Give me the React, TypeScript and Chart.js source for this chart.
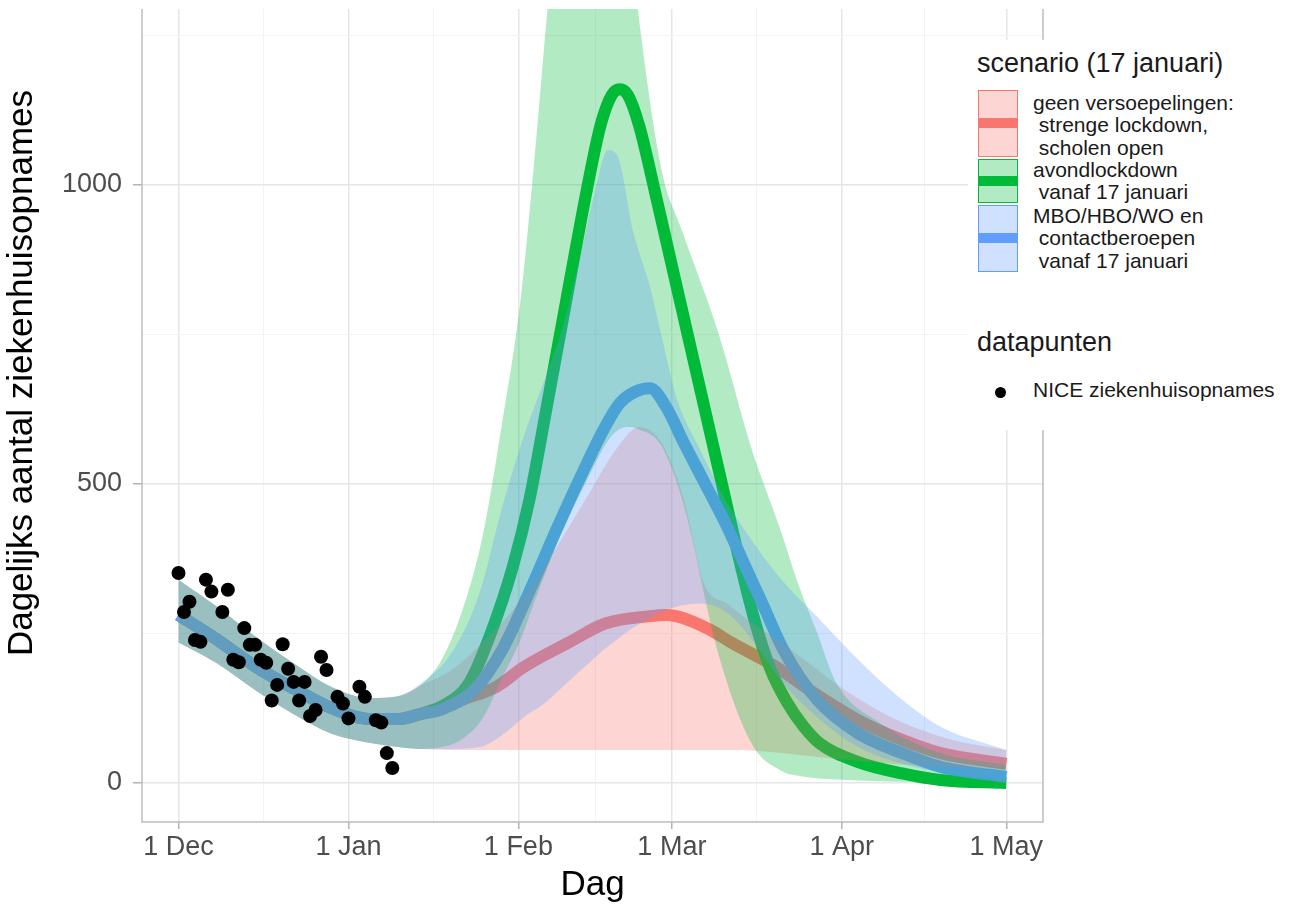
import React, { useEffect, useRef } from 'react';
import { Chart, registerables } from 'chart.js';

Chart.register(...registerables);

// ---------- axis ticks ----------
const xTickDays = [0, 31, 62, 90, 121, 151];
const xTickLabels = ['1 Dec', '1 Jan', '1 Feb', '1 Mar', '1 Apr', '1 May'];
const xMinorDays = [15.5, 46.5, 76, 105.5, 136];
const yTickValues = [0, 500, 1000];
const yMinorValues = [250, 750, 1250];

// ---------- NICE data points (day since 1 Dec, admissions) ----------
const niceDays = [0, 1, 2, 3, 4, 5, 6, 8, 9, 10, 11, 12, 13, 14, 15, 16, 17, 18, 19, 20, 21, 22, 23, 24, 25, 26, 27, 29, 30, 31, 33, 34, 36, 37, 38, 39];
const niceValues = [351, 286, 303, 239, 236, 340, 320, 286, 323, 206, 202, 259, 231, 231, 206, 201, 138, 164, 232, 191, 169, 138, 169, 112, 122, 211, 189, 144, 133, 108, 161, 144, 105, 101, 50, 25];

// ---------- scenario: geen versoepelingen (red) ----------
const redLineDays = [0, 7, 14, 21, 28, 35, 40, 44, 48, 52, 58, 63, 71, 78, 86, 89, 92, 97, 101, 109, 116, 124, 132, 139, 151];
const redLine = [281, 240, 195, 158, 125, 107, 107, 115, 127, 140, 161, 194, 234, 267, 279, 281, 276, 256, 234, 194, 150, 105, 72, 50, 32];
const redBandDays = [0, 7, 14, 21, 28, 35, 40, 44, 50, 56, 62, 68, 74, 80, 84, 88, 92, 96, 100, 105, 110, 115, 120, 130, 140, 151];
const redLow = [235, 200, 155, 115, 82, 67, 60, 57, 55, 55, 55, 55, 55, 55, 55, 55, 55, 55, 55, 54, 50, 45, 40, 32, 26, 22];
const redHigh = [340, 295, 245, 200, 160, 142, 145, 162, 190, 240, 300, 380, 470, 560, 595, 570, 480, 330, 300, 265, 235, 200, 165, 110, 75, 55];

// ---------- scenario: avondlockdown (green) ----------
const greenLineDays = [0, 7, 14, 21, 28, 35, 40, 44, 48, 53, 57, 61, 64, 67, 70, 74.6, 77, 79, 80.5, 82, 84, 87, 90, 93, 96, 99, 102, 105, 108, 111, 114, 117, 124, 132, 139, 151];
const greenLine = [281, 240, 195, 158, 125, 107, 107, 115, 128, 167, 251, 362, 473, 620, 770, 997, 1100, 1150, 1160, 1150, 1100, 985, 865, 745, 625, 505, 385, 275, 190, 135, 95, 66, 35, 16, 5, 0];
const greenBandDays = [0, 7, 14, 21, 28, 35, 40, 44, 48, 52, 55.6, 59, 62.4, 64.8, 67.3, 70, 75, 79, 82, 83.8, 88, 92, 98.5, 104.6, 110, 113, 116.5, 120, 128, 139, 151];
const greenLow = [235, 200, 155, 115, 82, 67, 60, 57, 60, 75, 110, 175, 240, 300, 360, 420, 515, 580, 595, 592, 565, 470, 215, 65, 20, 12, 8, 6, 3, 1, 0];
const greenHigh = [340, 295, 245, 200, 160, 142, 145, 162, 206, 295, 418, 600, 808, 1030, 1293, 1550, 1750, 1650, 1450, 1293, 1030, 920, 752, 557, 418, 334, 251, 167, 100, 50, 30];

// ---------- scenario: MBO/HBO/WO en contactberoepen (blue) ----------
const blueLineDays = [0, 7, 14, 21, 28, 35, 40, 44, 48, 54, 59, 64.5, 69, 73.5, 77.5, 80.5, 83.5, 86, 89, 92, 95.5, 100, 103, 106.5, 110.5, 116.5, 124, 132, 139, 151];
const blueLine = [281, 240, 195, 158, 125, 107, 107, 115, 123, 156, 222, 330, 425, 515, 590, 635, 655, 660, 628, 572, 510, 430, 370, 300, 220, 139, 83, 50, 27, 10];
const blueBandDays = [0, 7, 14, 21, 28, 35, 40, 44, 50, 55, 59, 63, 67, 70, 73, 76, 78.3, 80, 83, 86, 88, 91, 95, 100, 105, 110, 116.5, 124, 132, 139, 151];
const blueLow = [235, 200, 155, 115, 82, 67, 60, 57, 57, 60, 80, 110, 135, 160, 185, 210, 228, 240, 260, 275, 285, 295, 300, 285, 235, 170, 110, 60, 32, 18, 5];
const blueHigh = [340, 295, 245, 200, 160, 142, 145, 165, 220, 320, 460, 580, 680, 760, 870, 990, 1058, 1050, 920, 830, 752, 640, 560, 470, 400, 340, 278, 206, 139, 94, 55];

// ---------- styling ----------
const W = 1294;
const H = 906;
const FONT = "'Liberation Sans', Arial, Helvetica, sans-serif";
const RED = '#F8766D';
const GREEN = '#00BA38';
const BLUE = '#619CFF';
const RED_F = 'rgba(248,118,109,0.3)';
const GREEN_F = 'rgba(0,186,56,0.3)';
const BLUE_F = 'rgba(97,156,255,0.3)';

const pts = (xs: number[], ys: number[]) => xs.map((x, i) => ({ x, y: ys[i] }));

const lineDs = (data: { x: number; y: number }[], color: string, order: number) => ({
  data,
  borderColor: color,
  backgroundColor: color,
  borderWidth: 12,
  pointRadius: 0,
  borderCapStyle: 'butt' as const,
  borderJoinStyle: 'round' as const,
  cubicInterpolationMode: 'monotone' as const,
  fill: false,
  order,
});

const bandEdge = (data: { x: number; y: number }[], order: number, fill: any, bg: string) => ({
  data,
  borderColor: 'rgba(0,0,0,0)',
  backgroundColor: bg,
  borderWidth: 0,
  pointRadius: 0,
  cubicInterpolationMode: 'monotone' as const,
  fill,
  order,
});

const panelBorder = {
  id: 'panelBorder',
  afterDraw(chart: any) {
    const { ctx, chartArea: a } = chart;
    ctx.save();
    ctx.strokeStyle = '#bdbdbd';
    ctx.lineWidth = 1.5;
    ctx.beginPath();
    ctx.moveTo(a.left, a.top);
    ctx.lineTo(a.left, a.bottom);
    ctx.lineTo(a.right, a.bottom);
    ctx.lineTo(a.right, a.top);
    ctx.stroke();
    ctx.restore();
  },
};

const yTitle = {
  id: 'yTitle',
  afterDraw(chart: any) {
    const { ctx } = chart;
    ctx.save();
    ctx.translate(22, 373);
    ctx.rotate(-Math.PI / 2);
    ctx.font = `35px ${FONT}`;
    ctx.fillStyle = '#000';
    ctx.textAlign = 'center';
    ctx.textBaseline = 'middle';
    ctx.fillText('Dagelijks aantal ziekenhuisopnames', 0, 0);
    ctx.restore();
  },
};

const isIn = (arr: number[], v: number) => arr.some((a) => Math.abs(a - v) < 1e-6);

export default function App() {
  const ref = useRef<HTMLCanvasElement>(null);

  useEffect(() => {
    const canvas = ref.current;
    if (!canvas) return;
    const datasets: any[] = [
      // 0 points
      {
        data: pts(niceDays, niceValues),
        showLine: false,
        pointRadius: 7,
        pointBackgroundColor: '#000',
        pointBorderWidth: 0,
        borderColor: '#000',
        order: 0,
      },
      // 1-3 lines (drawn under the ribbons)
      lineDs(pts(redLineDays, redLine), RED, 6),
      lineDs(pts(greenLineDays, greenLine), GREEN, 5),
      lineDs(pts(blueLineDays, blueLine), BLUE, 4),
      // 4-5 red ribbon
      bandEdge(pts(redBandDays, redLow), 3, false, RED_F),
      bandEdge(pts(redBandDays, redHigh), 3, { target: 4, above: RED_F, below: RED_F }, RED_F),
      // 6-7 green ribbon
      bandEdge(pts(greenBandDays, greenLow), 2, false, GREEN_F),
      bandEdge(pts(greenBandDays, greenHigh), 2, { target: 6, above: GREEN_F, below: GREEN_F }, GREEN_F),
      // 8-9 blue ribbon
      bandEdge(pts(blueBandDays, blueLow), 1, false, BLUE_F),
      bandEdge(pts(blueBandDays, blueHigh), 1, { target: 8, above: BLUE_F, below: BLUE_F }, BLUE_F),
    ];

    const xAll = [...xTickDays, ...xMinorDays].sort((a, b) => a - b);
    const yAll = [...yTickValues, ...yMinorValues].sort((a, b) => a - b);

    const chart = new Chart(canvas, {
      type: 'line',
      data: { datasets },
      options: {
        responsive: false,
        maintainAspectRatio: false,
        animation: false,
        events: [],
        layout: { padding: { left: 0, top: 9, right: W - 1043, bottom: 0 } },
        plugins: {
          legend: { display: false },
          tooltip: { enabled: false },
          filler: { propagate: false },
        },
        scales: {
          x: {
            type: 'linear',
            min: -6.66,
            max: 157.7,
            afterBuildTicks: (s: any) => {
              s.ticks = xAll.map((v) => ({ value: v }));
            },
            afterFit: (s: any) => {
              s.height = H - 822;
              s.paddingLeft = 0;
              s.paddingRight = 0;
              s.paddingTop = 0;
              s.paddingBottom = 0;
            },
            ticks: {
              autoSkip: false,
              maxRotation: 0,
              minRotation: 0,
              padding: 2,
              color: '#4d4d4d',
              font: { family: FONT, size: 27 },
              callback: (v: any) => {
                const i = xTickDays.findIndex((d) => Math.abs(d - Number(v)) < 1e-6);
                return i >= 0 ? xTickLabels[i] : '';
              },
            },
            grid: {
              color: (c: any) => (isIn(xTickDays, c.tick?.value) ? '#e6e6e6' : '#f3f3f3'),
              lineWidth: (c: any) => (isIn(xTickDays, c.tick?.value) ? 1.5 : 1),
              tickColor: (c: any) => (isIn(xTickDays, c.tick?.value) ? '#b3b3b3' : 'rgba(0,0,0,0)'),
              tickLength: 7,
              tickWidth: 1.5,
              drawTicks: true,
            },
            border: { display: false },
            title: {
              display: true,
              text: 'Dag',
              color: '#000',
              font: { family: FONT, size: 35, lineHeight: 1.2 },
              padding: { top: 0, bottom: 0 },
            },
          },
          y: {
            type: 'linear',
            min: -65.2,
            max: 1294,
            afterBuildTicks: (s: any) => {
              s.ticks = yAll.map((v) => ({ value: v }));
            },
            afterFit: (s: any) => {
              s.width = 142;
              s.paddingLeft = 0;
              s.paddingRight = 0;
              s.paddingTop = 0;
              s.paddingBottom = 0;
            },
            ticks: {
              padding: 11,
              color: '#4d4d4d',
              font: { family: FONT, size: 27 },
              callback: (v: any) => (isIn(yTickValues, Number(v)) ? String(v) : ''),
            },
            grid: {
              color: (c: any) => (isIn(yTickValues, c.tick?.value) ? '#e6e6e6' : '#f3f3f3'),
              lineWidth: (c: any) => (isIn(yTickValues, c.tick?.value) ? 1.5 : 1),
              tickColor: (c: any) => (isIn(yTickValues, c.tick?.value) ? '#b3b3b3' : 'rgba(0,0,0,0)'),
              tickLength: 9,
              tickWidth: 1.5,
              drawTicks: true,
            },
            border: { display: false },
            title: { display: false },
          },
        },
      } as any,
      plugins: [panelBorder, yTitle],
    });
    return () => chart.destroy();
  }, []);

  const keyBox = (top: number, height: number, fill: string, color: string) => (
    <div
      style={{
        position: 'absolute',
        left: 978,
        top,
        width: 40,
        height,
        boxSizing: 'border-box',
        background: fill,
        border: `1.5px solid ${color}`,
      }}
    >
      <div
        style={{
          position: 'absolute',
          left: 0,
          right: 0,
          top: height / 2 - 1.5 - 5,
          height: 10,
          background: color,
        }}
      />
    </div>
  );

  const label = (top: number, lines: string[]) => (
    <div
      style={{
        position: 'absolute',
        left: 1033,
        top,
        fontSize: 21,
        lineHeight: '22.5px',
        color: '#1a1a1a',
        whiteSpace: 'pre',
      }}
    >
      {lines.map((l, i) => (
        <div key={i}>{l}</div>
      ))}
    </div>
  );

  return (
    <div
      style={{
        position: 'absolute',
        left: 0,
        top: 0,
        width: W,
        height: H,
        background: '#fff',
        fontFamily: FONT,
        overflow: 'hidden',
      }}
    >
      <canvas
        ref={ref}
        width={W}
        height={H}
        style={{ position: 'absolute', left: 0, top: 0, width: W, height: H }}
      />
      {/* legend panel */}
      <div style={{ position: 'absolute', left: 968, top: 40, width: W - 968, height: 390, background: '#fff' }} />
      <div
        style={{
          position: 'absolute',
          left: 977,
          top: 50,
          fontSize: 27,
          lineHeight: '27px',
          color: '#1a1a1a',
          whiteSpace: 'pre',
        }}
      >
        scenario (17 januari)
      </div>
      {keyBox(90, 67, RED_F, RED)}
      {keyBox(159, 44, GREEN_F, GREEN)}
      {keyBox(205, 67, BLUE_F, BLUE)}
      {label(91.5, ['geen versoepelingen:', ' strenge lockdown,', ' scholen open'])}
      {label(158.5, ['avondlockdown', ' vanaf 17 januari'])}
      {label(204.5, ['MBO/HBO/WO en', ' contactberoepen', ' vanaf 17 januari'])}
      <div
        style={{
          position: 'absolute',
          left: 977,
          top: 329,
          fontSize: 27,
          lineHeight: '27px',
          color: '#1a1a1a',
          whiteSpace: 'pre',
        }}
      >
        datapunten
      </div>
      <div
        style={{
          position: 'absolute',
          left: 994.5,
          top: 386.5,
          width: 11,
          height: 11,
          borderRadius: '50%',
          background: '#000',
        }}
      />
      <div
        style={{
          position: 'absolute',
          left: 1033,
          top: 379,
          fontSize: 21,
          lineHeight: '21px',
          color: '#1a1a1a',
          whiteSpace: 'pre',
        }}
      >
        NICE ziekenhuisopnames
      </div>
    </div>
  );
}
